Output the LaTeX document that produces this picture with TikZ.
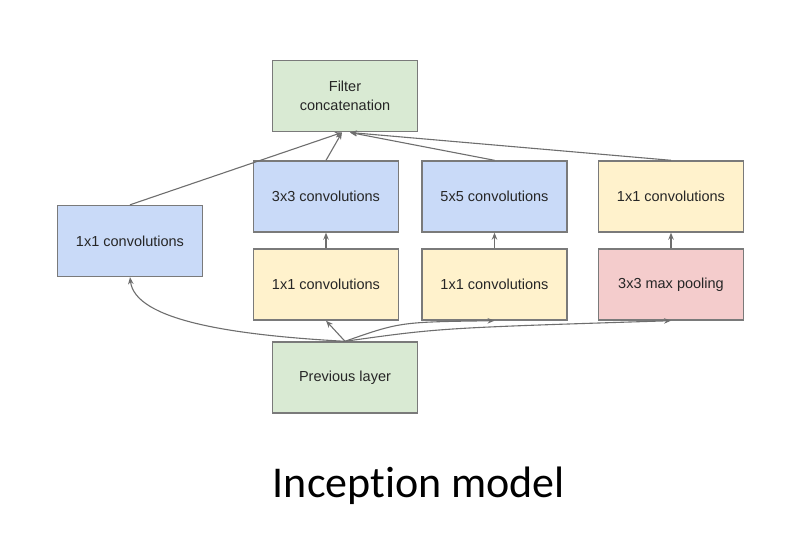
\documentclass[tikz,border=0pt]{standalone}
\usepackage{fontspec}
\setmainfont{Liberation Sans}
\newfontfamily\boxfont{Liberation Sans}
\newfontfamily\titlefont[Ligatures=NoCommon]{Carlito}
\usetikzlibrary{arrows.meta}
\definecolor{bluebox}{HTML}{C9DAF8}
\definecolor{yellowbox}{HTML}{FFF2CC}
\definecolor{greenbox}{HTML}{D9EAD3}
\definecolor{redbox}{HTML}{F4CCCC}
\definecolor{edgegray}{HTML}{7A7A7A}
\definecolor{linegray}{HTML}{6E6E6E}
\definecolor{txtgray}{HTML}{262626}
\tikzset{
  box/.style={draw=edgegray, line width=1.4pt, minimum width=145pt, minimum height=71pt,
    inner sep=0pt, align=center, text=txtgray, font=\boxfont\fontsize{14.5}{19}\selectfont},
  conn/.style={draw=linegray, line width=1.1pt, -{Stealth[length=7pt,width=5.5pt]}}
}
\begin{document}
\begin{tikzpicture}[x=1pt,y=-1pt]
\useasboundingbox (0,0) rectangle (804,552);
\node[box, fill=greenbox] (concat) at (345,96) {Filter\\concatenation};
\node[box, fill=bluebox] (left) at (130,241) {1x1 convolutions};
\node[box, fill=bluebox] (c33) at (326,196.5) {3x3 convolutions};
\node[box, fill=yellowbox] (r33) at (326,284.5) {1x1 convolutions};
\node[box, fill=bluebox] (c55) at (494.5,196.5) {5x5 convolutions};
\node[box, fill=yellowbox] (r55) at (494.5,284.5) {1x1 convolutions};
\node[box, fill=yellowbox] (c11) at (671,196.5) {1x1 convolutions};
\node[box, fill=redbox] (pool) at (671,284.5) {3x3 max pooling};
\node[box, fill=greenbox] (prev) at (345,377.5) {Previous layer};
\node[font=\titlefont\fontsize{44}{50}\selectfont, text=black] (title) at (419,486) {Inception model};

\coordinate (hub) at (prev.north);
\coordinate (inA) at (342,132.5);
\coordinate (inB) at (350,132.5);

% from previous layer
\draw[conn] (hub) .. controls (230,335) and (135,320) .. (left.south);
\draw[conn] (hub) -- (r33.south);
\draw[conn] (hub) .. controls (400,322) .. (r55.south);
\draw[conn] (hub) .. controls (440,328) .. (pool.south);

% vertical
\draw[conn] (r33.north) -- (c33.south);
\draw[conn] (r55.north) -- (c55.south);
\draw[conn] (pool.north) -- (c11.south);

% to concatenation
\draw[conn] (left.north) -- (inA);
\draw[conn] (c33.north) -- (inA);
\draw[conn] (c55.north) -- (inB);
\draw[conn] (c11.north) -- (inB);
\end{tikzpicture}
\end{document}
